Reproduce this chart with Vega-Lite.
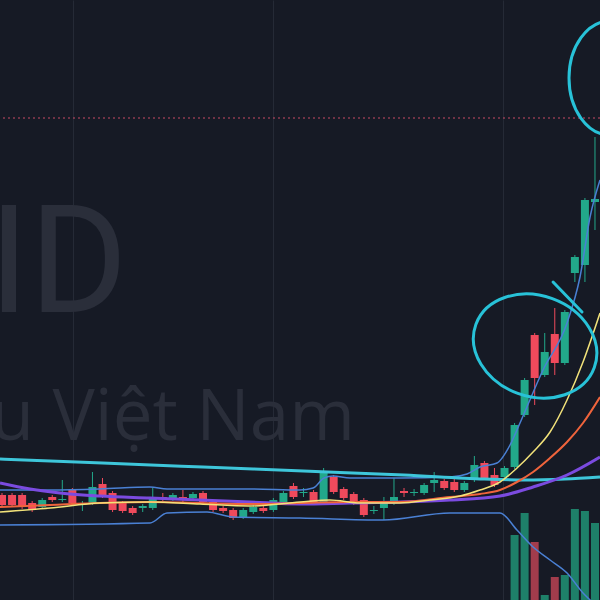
{
  "$schema": "https://vega.github.io/schema/vega-lite/v6.json",
  "width": 600,
  "height": 600,
  "padding": 0,
  "autosize": {"type": "none"},
  "background": "#161a25",
  "config": {
    "view": {"stroke": null},
    "scale": {"continuousPadding": 0},
    "axis": {"labels": false, "ticks": false, "domain": false, "title": null, "grid": true, "gridColor": "#252a36", "gridWidth": 1}
  },
  "datasets": {
    "candles": [
      {"i":0,"o":10.5,"c":9.5,"h":10.7,"l":9.3},
      {"i":1,"o":10.5,"c":9.5,"h":10.7,"l":9.3},
      {"i":2,"o":10.5,"c":9.3,"h":10.7,"l":9.1},
      {"i":3,"o":9.7,"c":9.0,"h":9.9,"l":8.8},
      {"i":4,"o":9.3,"c":10.0,"h":10.2,"l":9.1},
      {"i":5,"o":10.3,"c":10.0,"h":10.5,"l":9.8},
      {"i":6,"o":10.0,"c":10.1,"h":12.0,"l":9.8},
      {"i":7,"o":11.0,"c":9.7,"h":11.2,"l":9.5},
      {"i":8,"o":9.5,"c":9.7,"h":9.9,"l":8.9},
      {"i":9,"o":9.7,"c":11.3,"h":12.8,"l":9.5},
      {"i":10,"o":11.6,"c":10.4,"h":12.2,"l":10.2},
      {"i":11,"o":10.7,"c":9.0,"h":10.9,"l":8.8},
      {"i":12,"o":9.7,"c":8.9,"h":9.9,"l":8.7},
      {"i":13,"o":9.2,"c":8.7,"h":9.4,"l":8.5},
      {"i":14,"o":9.2,"c":9.4,"h":9.6,"l":8.8},
      {"i":15,"o":9.2,"c":10.1,"h":11.2,"l":9.0},
      {"i":16,"o":10.3,"c":10.1,"h":10.7,"l":9.9},
      {"i":17,"o":10.1,"c":10.5,"h":10.7,"l":9.9},
      {"i":18,"o":10.3,"c":10.0,"h":11.0,"l":9.8},
      {"i":19,"o":10.2,"c":10.6,"h":10.8,"l":10.0},
      {"i":20,"o":10.7,"c":9.8,"h":10.9,"l":9.6},
      {"i":21,"o":9.8,"c":9.0,"h":10.0,"l":8.8},
      {"i":22,"o":9.2,"c":8.9,"h":9.4,"l":8.7},
      {"i":23,"o":9.0,"c":8.2,"h":9.2,"l":8.0},
      {"i":24,"o":8.3,"c":9.0,"h":9.2,"l":8.1},
      {"i":25,"o":8.8,"c":9.3,"h":9.5,"l":8.6},
      {"i":26,"o":9.2,"c":8.9,"h":9.4,"l":8.7},
      {"i":27,"o":9.0,"c":10.0,"h":10.2,"l":8.8},
      {"i":28,"o":9.8,"c":10.7,"h":10.9,"l":9.6},
      {"i":29,"o":11.4,"c":10.3,"h":11.7,"l":10.1},
      {"i":30,"o":10.7,"c":10.8,"h":11.2,"l":10.3},
      {"i":31,"o":10.8,"c":9.8,"h":11.0,"l":9.6},
      {"i":32,"o":9.8,"c":12.8,"h":13.2,"l":9.6},
      {"i":33,"o":12.3,"c":10.8,"h":12.5,"l":10.6},
      {"i":34,"o":11.1,"c":10.2,"h":11.3,"l":10.0},
      {"i":35,"o":10.6,"c":9.7,"h":10.8,"l":9.5},
      {"i":36,"o":10.0,"c":8.5,"h":10.2,"l":8.3},
      {"i":37,"o":8.9,"c":9.0,"h":9.4,"l":8.6},
      {"i":38,"o":9.2,"c":9.8,"h":10.3,"l":8.0},
      {"i":39,"o":9.7,"c":10.3,"h":12.2,"l":9.5},
      {"i":40,"o":10.9,"c":10.7,"h":11.2,"l":10.3},
      {"i":41,"o":10.7,"c":10.8,"h":11.1,"l":10.4},
      {"i":42,"o":10.7,"c":11.5,"h":11.7,"l":10.5},
      {"i":43,"o":11.7,"c":12.0,"h":12.8,"l":10.8},
      {"i":44,"o":11.9,"c":11.2,"h":12.1,"l":11.0},
      {"i":45,"o":11.8,"c":11.0,"h":12.2,"l":10.8},
      {"i":46,"o":11.0,"c":11.7,"h":11.9,"l":10.8},
      {"i":47,"o":12.0,"c":13.5,"h":14.4,"l":11.8},
      {"i":48,"o":13.7,"c":12.2,"h":13.9,"l":12.0},
      {"i":49,"o":12.5,"c":11.5,"h":13.2,"l":11.3},
      {"i":50,"o":12.3,"c":13.2,"h":13.4,"l":12.1},
      {"i":51,"o":13.3,"c":17.5,"h":17.7,"l":13.1},
      {"i":52,"o":18.5,"c":22.0,"h":22.2,"l":18.3},
      {"i":53,"o":26.5,"c":22.2,"h":26.7,"l":19.5},
      {"i":54,"o":22.5,"c":24.8,"h":26.7,"l":22.3},
      {"i":55,"o":26.6,"c":23.7,"h":29.2,"l":22.5},
      {"i":56,"o":23.7,"c":28.8,"h":29.0,"l":23.5},
      {"i":57,"o":32.7,"c":34.3,"h":34.5,"l":31.8},
      {"i":58,"o":33.5,"c":40.0,"h":40.2,"l":31.8},
      {"i":59,"o":39.8,"c":40.1,"h":46.3,"l":37.0}
    ],
    "volume": [
      {"i":51,"v":650,"d":"up"},
      {"i":52,"v":870,"d":"up"},
      {"i":53,"v":580,"d":"down"},
      {"i":54,"v":50,"d":"up"},
      {"i":55,"v":230,"d":"down"},
      {"i":56,"v":250,"d":"up"},
      {"i":57,"v":910,"d":"up"},
      {"i":58,"v":890,"d":"up"},
      {"i":59,"v":770,"d":"up"}
    ],
    "lines": [
      {"s":"ma200","i":-0.2,"p":14.1},{"s":"ma200","i":10,"p":13.7},{"s":"ma200","i":20,"p":13.3},{"s":"ma200","i":30,"p":12.9},{"s":"ma200","i":40,"p":12.5},{"s":"ma200","i":48,"p":12.1},{"s":"ma200","i":52,"p":12.0},{"s":"ma200","i":56,"p":12.1},{"s":"ma200","i":59.5,"p":12.3},
      {"s":"ma50","i":-0.2,"p":11.7},{"s":"ma50","i":2.79,"p":11.1},{"s":"ma50","i":5.77,"p":10.7},{"s":"ma50","i":9.75,"p":10.4},{"s":"ma50","i":14.73,"p":10.2},{"s":"ma50","i":19.7,"p":10.0},{"s":"ma50","i":24.68,"p":9.8},{"s":"ma50","i":29.65,"p":9.6},{"s":"ma50","i":34.63,"p":9.7},{"s":"ma50","i":39.6,"p":9.8},{"s":"ma50","i":44.58,"p":10.0},{"s":"ma50","i":49.55,"p":10.4},{"s":"ma50","i":52.84,"p":11.3},{"s":"ma50","i":56.22,"p":12.5},{"s":"ma50","i":59.5,"p":14.3},
      {"s":"ma20","i":-0.2,"p":9.3},{"s":"ma20","i":4.78,"p":9.5},{"s":"ma20","i":9.75,"p":9.7},{"s":"ma20","i":14.73,"p":9.8},{"s":"ma20","i":19.7,"p":9.7},{"s":"ma20","i":24.68,"p":9.6},{"s":"ma20","i":29.65,"p":9.7},{"s":"ma20","i":34.63,"p":9.8},{"s":"ma20","i":39.6,"p":9.8},{"s":"ma20","i":44.58,"p":10.3},{"s":"ma20","i":47.56,"p":10.6},{"s":"ma20","i":49.55,"p":11.0},{"s":"ma20","i":51.24,"p":11.8},{"s":"ma20","i":52.84,"p":12.8},{"s":"ma20","i":54.53,"p":14.2},{"s":"ma20","i":56.22,"p":15.8},{"s":"ma20","i":57.81,"p":17.7},{"s":"ma20","i":59.5,"p":20.3},
      {"s":"ma10","i":-0.2,"p":8.8},{"s":"ma10","i":4.78,"p":9.2},{"s":"ma10","i":9.75,"p":9.7},{"s":"ma10","i":14.73,"p":9.8},{"s":"ma10","i":19.7,"p":9.6},{"s":"ma10","i":24.68,"p":9.4},{"s":"ma10","i":29.65,"p":9.8},{"s":"ma10","i":32.64,"p":10.0},{"s":"ma10","i":35.62,"p":9.7},{"s":"ma10","i":39.6,"p":9.7},{"s":"ma10","i":42.59,"p":10.0},{"s":"ma10","i":45.57,"p":10.4},{"s":"ma10","i":47.56,"p":11.0},{"s":"ma10","i":49.55,"p":11.8},{"s":"ma10","i":51.24,"p":13.2},{"s":"ma10","i":52.84,"p":14.8},{"s":"ma10","i":54.53,"p":16.8},{"s":"ma10","i":56.22,"p":20.0},{"s":"ma10","i":57.81,"p":23.8},{"s":"ma10","i":59.5,"p":28.7},
      {"s":"bbu","i":-0.2,"p":11.0},{"s":"bbu","i":4.78,"p":11.0},{"s":"bbu","i":9.75,"p":11.1},{"s":"bbu","i":14.73,"p":11.3},{"s":"bbu","i":16.42,"p":11.1},{"s":"bbu","i":19.7,"p":11.1},{"s":"bbu","i":24.68,"p":11.1},{"s":"bbu","i":29.65,"p":11.0},{"s":"bbu","i":30.95,"p":11.2},{"s":"bbu","i":32.04,"p":12.2},{"s":"bbu","i":32.94,"p":12.4},{"s":"bbu","i":34.63,"p":12.2},{"s":"bbu","i":39.6,"p":12.2},{"s":"bbu","i":44.58,"p":12.3},{"s":"bbu","i":46.27,"p":12.6},{"s":"bbu","i":47.56,"p":13.3},{"s":"bbu","i":49.25,"p":13.7},{"s":"bbu","i":50.55,"p":15.5},{"s":"bbu","i":51.54,"p":17.7},{"s":"bbu","i":53.83,"p":23.0},{"s":"bbu","i":56.22,"p":27.7},{"s":"bbu","i":57.51,"p":32.3},{"s":"bbu","i":58.51,"p":38.3},{"s":"bbu","i":59.5,"p":42.0},
      {"s":"bbl","i":-0.2,"p":7.5},{"s":"bbl","i":14.73,"p":7.7},{"s":"bbl","i":16.42,"p":8.7},{"s":"bbl","i":20.4,"p":8.8},{"s":"bbl","i":22.99,"p":8.3},{"s":"bbl","i":29.65,"p":8.2},{"s":"bbl","i":37.91,"p":8.0},{"s":"bbl","i":44.58,"p":8.7},{"s":"bbl","i":49.55,"p":8.7},{"s":"bbl","i":51.24,"p":7.0},{"s":"bbl","i":52.84,"p":5.3},{"s":"bbl","i":54.53,"p":4.0},{"s":"bbl","i":56.22,"p":2.7},{"s":"bbl","i":57.81,"p":0.7},{"s":"bbl","i":58.51,"p":0.0},{"s":"bbl","i":59.5,"p":-1.2}
    ]
  },
  "resolve": {"scale": {"y": "independent"}},
  "layer": [
    {
      "data": {"name": "volume"},
      "mark": {"type": "bar", "size": 8, "orient": "vertical"},
      "encoding": {
        "x": {"field": "i", "type": "quantitative", "scale": {"domain": [-0.2, 59.5], "nice": false, "zero": false, "padding": 0}, "axis": {"values": [7.06, 26.97, 49.85]}},
        "y": {"field": "v", "type": "quantitative", "scale": {"domain": [0, 6000], "nice": false}, "axis": null},
        "color": {"condition": {"test": "datum.d == 'down'", "value": "#a23c4c"}, "value": "#1e8069"}
      }
    },
    {
      "layer": [
        {
          "data": {"values": [{"i": 12.5, "p": 28.8, "t": "ID"}]},
          "mark": {"type": "text", "align": "right", "baseline": "alphabetic", "fontSize": 150, "font": "Roboto", "color": "#2a2e3a"},
          "encoding": {
            "x": {"field": "i", "type": "quantitative", "scale": {"domain": [-0.2, 59.5], "nice": false, "zero": false, "padding": 0}},
            "y": {"field": "p", "type": "quantitative", "scale": {"domain": [0, 60], "nice": false}, "axis": {"values": [54.2, 40.3, 33.4, 26.5, 19.5, 12.6, 5.7]}},
            "text": {"field": "t"}
          }
        },
        {
          "data": {"values": [{"i": 35.12, "p": 16.0, "t": "u Việt Nam"}]},
          "mark": {"type": "text", "align": "right", "baseline": "alphabetic", "fontSize": 71, "font": "Open Sans", "color": "#2a2e3a"},
          "encoding": {
            "x": {"field": "i", "type": "quantitative"},
            "y": {"field": "p", "type": "quantitative"},
            "text": {"field": "t"}
          }
        },
        {
          "data": {"values": [{"p": 48.2}]},
          "mark": {"type": "rule", "color": "#c84a66", "strokeDash": [2, 3], "strokeWidth": 1},
          "encoding": {"y": {"field": "p", "type": "quantitative"}}
        },
        {
          "data": {"name": "candles"},
          "mark": {"type": "rule", "strokeWidth": 1},
          "encoding": {
            "x": {"field": "i", "type": "quantitative"},
            "y": {"field": "l", "type": "quantitative"},
            "y2": {"field": "h"},
            "color": {"condition": {"test": "datum.c < datum.o", "value": "#ef4a5c"}, "value": "#22a88a"}
          }
        },
        {
          "data": {"name": "candles"},
          "mark": {"type": "bar", "size": 8, "orient": "vertical"},
          "encoding": {
            "x": {"field": "i", "type": "quantitative"},
            "y": {"field": "o", "type": "quantitative"},
            "y2": {"field": "c"},
            "color": {"condition": {"test": "datum.c < datum.o", "value": "#ef4a5c"}, "value": "#22a88a"}
          }
        },
        {
          "data": {"name": "lines"},
          "transform": [{"filter": "datum.s == 'bbl' || datum.s == 'bbu'"}],
          "mark": {"type": "line", "interpolate": "monotone", "strokeWidth": 1.5, "color": "#4a80d4"},
          "encoding": {
            "x": {"field": "i", "type": "quantitative"},
            "y": {"field": "p", "type": "quantitative"},
            "detail": {"field": "s"}
          }
        },
        {
          "data": {"name": "lines"},
          "transform": [{"filter": "datum.s == 'ma200'"}],
          "mark": {"type": "line", "interpolate": "monotone", "strokeWidth": 3, "color": "#3ec6da"},
          "encoding": {
            "x": {"field": "i", "type": "quantitative"},
            "y": {"field": "p", "type": "quantitative"}
          }
        },
        {
          "data": {"name": "lines"},
          "transform": [{"filter": "datum.s == 'ma50'"}],
          "mark": {"type": "line", "interpolate": "monotone", "strokeWidth": 3, "color": "#7b4be0"},
          "encoding": {
            "x": {"field": "i", "type": "quantitative"},
            "y": {"field": "p", "type": "quantitative"}
          }
        },
        {
          "data": {"name": "lines"},
          "transform": [{"filter": "datum.s == 'ma20'"}],
          "mark": {"type": "line", "interpolate": "monotone", "strokeWidth": 2, "color": "#f0643c"},
          "encoding": {
            "x": {"field": "i", "type": "quantitative"},
            "y": {"field": "p", "type": "quantitative"}
          }
        },
        {
          "data": {"name": "lines"},
          "transform": [{"filter": "datum.s == 'ma10'"}],
          "mark": {"type": "line", "interpolate": "monotone", "strokeWidth": 1.5, "color": "#f2e27a"},
          "encoding": {
            "x": {"field": "i", "type": "quantitative"},
            "y": {"field": "p", "type": "quantitative"}
          }
        },
        {
          "data": {"values": [{"i": 53.04, "p": 25.4}]},
          "mark": {"type": "point", "filled": false, "size": 15876, "strokeWidth": 3, "color": "#28c2d8", "opacity": 1,
                   "shape": "M 0.94 0.342 C 0.789 0.757 0.245 0.941 -0.274 0.752 C -0.793 0.563 -1.091 0.073 -0.94 -0.342 C -0.789 -0.757 -0.245 -0.941 0.274 -0.752 C 0.793 -0.563 1.091 -0.073 0.94 0.342 Z"},
          "encoding": {
            "x": {"field": "i", "type": "quantitative"},
            "y": {"field": "p", "type": "quantitative"}
          }
        },
        {
          "data": {"values": [{"i": 60.5, "p": 52.2}]},
          "mark": {"type": "point", "filled": false, "size": 12996, "strokeWidth": 3, "color": "#28c2d8", "opacity": 1,
                   "shape": "M 0.72 0 C 0.72 0.5523 0.398 1 0 1 C -0.398 1 -0.72 0.5523 -0.72 0 C -0.72 -0.5523 -0.398 -1 0 -1 C 0.398 -1 0.72 -0.5523 0.72 0 Z"},
          "encoding": {
            "x": {"field": "i", "type": "quantitative"},
            "y": {"field": "p", "type": "quantitative"}
          }
        },
        {
          "data": {"values": [{"i": 54.83, "p": 31.8}, {"i": 57.71, "p": 28.8}]},
          "mark": {"type": "line", "strokeWidth": 3, "color": "#28c2d8", "strokeCap": "round"},
          "encoding": {
            "x": {"field": "i", "type": "quantitative"},
            "y": {"field": "p", "type": "quantitative"}
          }
        }
      ]
    }
  ]
}
